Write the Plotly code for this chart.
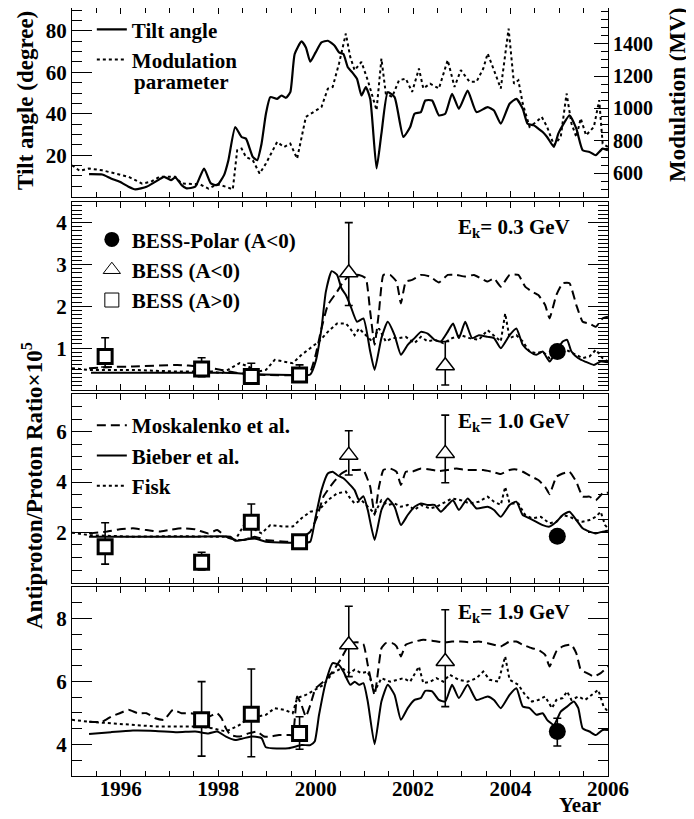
import plotly.graph_objects as go

# ---------------- data ----------------
# Top panel: HCS tilt angle (deg) and modulation parameter (MV)
tilt_year = [1995.35, 1995.62, 1995.80, 1995.98, 1996.16, 1996.30, 1996.53, 1996.71, 1996.89, 1997.03,
             1997.12, 1997.25, 1997.35, 1997.53, 1997.71, 1997.85, 1997.98, 1998.12, 1998.21, 1998.35,
             1998.48, 1998.57, 1998.71, 1998.80, 1998.89, 1998.98, 1999.07, 1999.21, 1999.30, 1999.39,
             1999.48, 1999.57, 1999.71, 1999.80, 1999.89, 2000.00, 2000.12, 2000.25, 2000.39, 2000.48,
             2000.57, 2000.66, 2000.75, 2000.85, 2000.94, 2001.03, 2001.12, 2001.25, 2001.35, 2001.48,
             2001.62, 2001.80, 2001.94, 2002.03, 2002.16, 2002.25, 2002.39, 2002.53, 2002.66, 2002.80,
             2002.94, 2003.12, 2003.30, 2003.53, 2003.66, 2003.80, 2003.98, 2004.12, 2004.25, 2004.35,
             2004.48, 2004.57, 2004.66, 2004.75, 2004.89, 2004.98, 2005.07, 2005.21, 2005.35, 2005.48,
             2005.62, 2005.75, 2005.89, 2006.00]
tilt_deg = [10.9, 10.7, 8.8, 7.2, 4.8, 3.5, 4.8, 7.2, 9.6, 8.0,
            9.3, 5.6, 4.0, 4.8, 13.6, 6.4, 5.6, 10.4, 17.6, 33.6,
            28.8, 28.0, 19.2, 17.6, 25.6, 40.0, 48.0, 47.2, 48.8, 47.7,
            50.4, 68.8, 74.9, 72.0, 65.1, 69.6, 74.4, 75.2, 72.8, 69.6,
            68.8, 62.4, 60.0, 56.8, 48.8, 52.8, 47.2, 13.6, 30.4, 50.4,
            48.0, 28.8, 33.6, 40.0, 40.8, 46.4, 46.4, 39.2, 40.0, 49.6,
            42.4, 51.2, 40.8, 43.2, 41.6, 35.2, 44.8, 47.2, 42.4, 35.2,
            34.4, 32.8, 31.2, 28.8, 24.0, 30.4, 34.4, 39.2, 32.8, 22.4,
            21.6, 20.0, 23.2, 22.4]

mod_year = [1995.00, 1995.16, 1995.35, 1995.62, 1995.89, 1996.16, 1996.44, 1996.62, 1996.80, 1996.98,
            1997.12, 1997.25, 1997.44, 1997.62, 1997.80, 1997.98, 1998.16, 1998.30, 1998.39, 1998.48,
            1998.57, 1998.71, 1998.85, 1998.98, 1999.21, 1999.35, 1999.48, 1999.62, 1999.80, 2000.00,
            2000.12, 2000.25, 2000.35, 2000.48, 2000.62, 2000.71, 2000.80, 2000.94, 2001.07, 2001.25,
            2001.35, 2001.44, 2001.57, 2001.71, 2001.85, 2001.98, 2002.12, 2002.21, 2002.35, 2002.53,
            2002.71, 2002.85, 2002.98, 2003.16, 2003.30, 2003.44, 2003.53, 2003.66, 2003.80, 2003.96,
            2004.07, 2004.16, 2004.25, 2004.39, 2004.53, 2004.64, 2004.75, 2004.89, 2005.03, 2005.15,
            2005.25, 2005.35, 2005.44, 2005.55, 2005.71, 2005.82, 2005.89, 2006.00]
mod_mv = [649, 614, 629, 618, 598, 578, 536, 547, 578, 578,
          578, 536, 536, 532, 505, 532, 516, 500, 742, 752,
          700, 680, 598, 660, 793, 762, 783, 690, 948, 989,
          1009, 1122, 1133, 1277, 1462, 1318, 1236, 1287, 1174, 989,
          1308, 1092, 1071, 1174, 1184, 1102, 1246, 1123, 1153, 1123,
          1298, 1133, 1236, 1164, 1164, 1246, 1339, 1236, 1123, 1493,
          1153, 1174, 1030, 886, 917, 948, 886, 773, 824, 1092,
          907, 824, 938, 834, 886, 1051, 783, 762]

# ---- Ek = 0.3 GeV model curves ----
bieber03_year = [1995.39, 1996.5, 1997.5, 1998.1, 1998.4, 1998.9, 1999.5, 1999.89, 2000.00, 2000.12,
                 2000.21, 2000.33, 2000.44, 2000.53, 2000.62, 2000.71, 2000.85, 2000.98, 2001.12, 2001.21,
                 2001.35, 2001.48, 2001.62, 2001.75, 2001.89, 2002.03, 2002.16, 2002.30, 2002.44, 2002.57,
                 2002.71, 2002.82, 2002.94, 2003.07, 2003.21, 2003.35, 2003.53, 2003.66, 2003.80, 2003.98,
                 2004.12, 2004.25, 2004.39, 2004.53, 2004.66, 2004.80, 2004.94, 2005.07, 2005.16, 2005.25,
                 2005.39, 2005.53, 2005.71, 2005.85, 2006.00]
bieber03_val = [0.41, 0.41, 0.41, 0.41, 0.40, 0.37, 0.36, 0.37, 0.68, 1.47,
                2.35, 2.84, 2.75, 2.43, 2.27, 2.03, 1.63, 1.71, 0.92, 0.48,
                1.24, 1.63, 1.31, 0.84, 1.08, 1.24, 1.39, 1.35, 1.20, 1.16,
                1.39, 1.59, 1.24, 1.63, 1.24, 1.31, 1.27, 1.24, 1.00, 1.31,
                1.47, 1.08, 0.92, 0.84, 0.92, 0.68, 0.92, 1.16, 1.20, 0.92,
                0.76, 0.68, 0.60, 0.68, 0.66]

mosk03_year = [1995.35, 1995.80, 1996.25, 1997.16, 1997.62, 1998.07, 1998.44, 1998.98, 1999.71, 1999.89,
               2000.00, 2000.12, 2000.25, 2000.44, 2000.57, 2000.71, 2000.89, 2001.03, 2001.12, 2001.21,
               2001.30, 2001.39, 2001.53, 2001.66, 2001.75, 2001.85, 2001.98, 2002.16, 2002.35, 2002.53,
               2002.71, 2002.89, 2003.07, 2003.25, 2003.39, 2003.53, 2003.66, 2003.80, 2003.98, 2004.16,
               2004.30, 2004.44, 2004.57, 2004.71, 2004.80, 2004.94, 2005.07, 2005.21, 2005.35, 2005.48,
               2005.62, 2005.75, 2005.89, 2006.00]
mosk03_val = [0.52, 0.55, 0.56, 0.60, 0.56, 0.48, 0.40, 0.36, 0.36, 0.44,
              0.84, 1.47, 2.03, 2.35, 2.59, 2.75, 2.75, 2.67, 1.87, 1.08,
              1.87, 2.75, 2.75, 2.59, 2.07, 2.59, 2.63, 2.75, 2.71, 2.57,
              2.75, 2.75, 2.71, 2.75, 2.67, 2.59, 2.67, 2.47, 2.75, 2.75,
              2.47, 2.35, 2.27, 2.03, 1.71, 2.27, 2.55, 2.55, 2.03, 1.63,
              1.59, 1.51, 1.71, 1.75]

fisk03_year = [1995.00, 1995.35, 1996.25, 1997.16, 1997.89, 1998.07, 1998.44, 1998.62, 1998.80, 1998.98,
               1999.16, 1999.35, 1999.53, 1999.71, 1999.89, 2000.07, 2000.25, 2000.44, 2000.62, 2000.71,
               2000.80, 2000.89, 2001.03, 2001.16, 2001.30, 2001.44, 2001.57, 2001.71, 2001.85, 2002.03,
               2002.16, 2002.30, 2002.44, 2002.62, 2002.80, 2002.98, 2003.16, 2003.35, 2003.53, 2003.66,
               2003.80, 2003.89, 2003.98, 2004.12, 2004.25, 2004.39, 2004.53, 2004.66, 2004.80, 2004.94,
               2005.07, 2005.21, 2005.35, 2005.48, 2005.62, 2005.75, 2005.89, 2006.00]
fisk03_val = [0.52, 0.48, 0.48, 0.44, 0.44, 0.40, 0.64, 0.56, 0.44, 0.48,
              0.72, 0.68, 0.64, 0.84, 1.00, 1.16, 1.39, 1.59, 1.59, 1.47,
              1.31, 1.47, 1.31, 1.16, 1.47, 1.16, 1.24, 1.24, 1.27, 1.12,
              1.27, 1.16, 1.20, 1.12, 1.24, 1.31, 1.24, 1.20, 1.43, 1.31,
              1.16, 1.83, 1.24, 1.31, 1.16, 0.92, 0.88, 0.92, 0.76, 0.84,
              1.00, 0.92, 0.84, 0.76, 0.80, 0.96, 0.76, 0.68]

# ---- Ek = 1.0 GeV model curves ----
bieber10_year = [1995.35, 1996.5, 1997.5, 1998.25, 1998.35, 1998.75, 1998.98, 1999.44, 1999.80, 1999.89,
                 2000.00, 2000.12, 2000.25, 2000.35, 2000.44, 2000.57, 2000.71, 2000.80, 2000.89, 2000.98,
                 2001.07, 2001.21, 2001.35, 2001.48, 2001.62, 2001.75, 2001.89, 2002.03, 2002.16, 2002.30,
                 2002.44, 2002.57, 2002.71, 2002.82, 2002.94, 2003.12, 2003.30, 2003.53, 2003.66, 2003.80,
                 2003.98, 2004.12, 2004.25, 2004.39, 2004.53, 2004.66, 2004.80, 2004.94, 2005.07, 2005.21,
                 2005.35, 2005.48, 2005.62, 2005.75, 2005.89, 2006.00]
bieber10_val = [1.83, 1.83, 1.83, 1.83, 1.67, 1.76, 1.63, 1.59, 1.59, 1.63,
                2.62, 3.68, 4.34, 4.41, 4.28, 4.15, 3.88, 3.68, 3.28, 3.44,
                2.89, 1.70, 2.89, 3.35, 3.02, 2.29, 2.69, 3.02, 3.15, 3.09,
                3.09, 2.82, 3.09, 3.28, 2.89, 3.35, 2.95, 3.02, 2.89, 2.62,
                3.09, 3.22, 2.69, 2.56, 2.42, 2.29, 2.23, 2.42, 2.69, 2.82,
                2.49, 2.16, 2.03, 1.96, 2.03, 2.07]

mosk10_year = [1995.35, 1995.71, 1995.98, 1996.25, 1996.53, 1996.80, 1996.98, 1997.25, 1997.53, 1997.80,
               1997.98, 1998.16, 1998.35, 1998.53, 1998.75, 1998.98, 1999.44, 1999.71, 1999.89, 2000.03,
               2000.16, 2000.35, 2000.53, 2000.66, 2000.80, 2000.98, 2001.12, 2001.21, 2001.30, 2001.39,
               2001.53, 2001.66, 2001.75, 2001.85, 2001.98, 2002.16, 2002.35, 2002.53, 2002.71, 2002.89,
               2003.07, 2003.25, 2003.44, 2003.62, 2003.80, 2003.98, 2004.12, 2004.25, 2004.44, 2004.57,
               2004.71, 2004.80, 2004.94, 2005.07, 2005.21, 2005.35, 2005.48, 2005.62, 2005.75, 2005.89,
               2006.00]
mosk10_val = [1.96, 2.03, 2.12, 2.16, 2.09, 2.03, 2.09, 2.16, 2.12, 1.96,
              2.09, 1.83, 1.70, 1.70, 1.83, 1.70, 1.63, 1.76, 2.03, 2.62,
              3.42, 3.95, 4.34, 4.48, 4.48, 4.48, 3.81, 2.69, 3.81, 4.48,
              4.54, 4.41, 3.88, 4.41, 4.41, 4.54, 4.50, 4.44, 4.48, 4.54,
              4.48, 4.48, 4.48, 4.41, 4.32, 4.48, 4.50, 4.41, 4.21, 4.08,
              3.81, 3.52, 4.21, 4.34, 4.41, 4.01, 3.42, 3.42, 3.28, 3.55,
              3.58]

fisk10_year = [1995.00, 1995.35, 1996.25, 1997.16, 1997.89, 1998.16, 1998.35, 1998.53, 1998.71, 1998.89,
               1999.07, 1999.35, 1999.53, 1999.71, 1999.89, 2000.07, 2000.25, 2000.44, 2000.62, 2000.71,
               2000.80, 2000.94, 2001.07, 2001.21, 2001.35, 2001.48, 2001.62, 2001.75, 2001.89, 2002.03,
               2002.16, 2002.35, 2002.48, 2002.62, 2002.80, 2002.98, 2003.16, 2003.35, 2003.53, 2003.66,
               2003.80, 2003.89, 2003.98, 2004.16, 2004.30, 2004.44, 2004.62, 2004.80, 2004.94, 2005.07,
               2005.21, 2005.35, 2005.48, 2005.62, 2005.75, 2005.85, 2005.94, 2006.00]
fisk10_val = [1.99, 1.89, 1.83, 1.85, 1.83, 1.83, 1.70, 2.29, 2.16, 1.96,
              2.29, 2.23, 2.23, 2.56, 2.82, 2.89, 3.28, 3.55, 3.62, 3.35,
              3.15, 3.28, 3.02, 2.75, 3.28, 3.09, 3.15, 3.02, 3.09, 2.89,
              3.09, 2.95, 3.02, 3.15, 3.35, 3.28, 3.15, 3.22, 3.42, 3.22,
              3.09, 3.81, 3.15, 3.15, 2.69, 2.56, 2.62, 2.36, 2.42, 2.69,
              2.62, 2.49, 2.42, 2.49, 2.62, 2.82, 2.29, 2.16]

# ---- Ek = 1.9 GeV model curves ----
bieber19_year = [1995.35, 1995.80, 1996.25, 1996.71, 1997.16, 1997.53, 1997.80, 1997.98, 1998.16, 1998.35,
                 1998.53, 1998.71, 1998.89, 1998.98, 1999.44, 1999.71, 1999.89, 1999.98, 2000.07, 2000.21,
                 2000.35, 2000.48, 2000.57, 2000.71, 2000.80, 2000.89, 2000.98, 2001.07, 2001.21, 2001.35,
                 2001.48, 2001.62, 2001.75, 2001.89, 2002.03, 2002.16, 2002.25, 2002.39, 2002.53, 2002.66,
                 2002.80, 2002.94, 2003.12, 2003.30, 2003.53, 2003.66, 2003.80, 2003.98, 2004.12, 2004.25,
                 2004.39, 2004.53, 2004.66, 2004.75, 2004.89, 2005.03, 2005.16, 2005.30, 2005.39, 2005.48,
                 2005.62, 2005.75, 2005.89, 2006.00]
bieber19_val = [4.33, 4.39, 4.44, 4.43, 4.39, 4.41, 4.35, 4.41, 4.25, 4.14,
                4.20, 4.25, 4.20, 3.91, 3.88, 3.98, 3.98, 4.09, 4.94, 5.99,
                6.58, 6.52, 6.31, 5.89, 5.99, 5.89, 5.94, 5.36, 4.01, 5.36,
                5.89, 5.57, 4.78, 5.15, 5.41, 5.47, 5.70, 5.68, 5.41, 5.36,
                5.89, 5.47, 5.89, 5.41, 5.52, 5.41, 5.15, 5.57, 5.78, 5.20,
                5.15, 4.94, 4.99, 4.78, 4.62, 5.04, 5.20, 5.36, 5.15, 4.51,
                4.41, 4.30, 4.46, 4.46]

mosk19_year = [1995.35, 1995.62, 1995.80, 1995.98, 1996.16, 1996.35, 1996.53, 1996.71, 1996.89, 1997.07,
               1997.25, 1997.44, 1997.62, 1997.80, 1997.98, 1998.07, 1998.16, 1998.25, 1998.44, 1998.62,
               1998.80, 1998.94, 1999.07, 1999.25, 1999.44, 1999.53, 1999.62, 1999.71, 1999.80, 1999.89,
               2000.00, 2000.16, 2000.35, 2000.53, 2000.71, 2000.85, 2000.98, 2001.07, 2001.21, 2001.35,
               2001.44, 2001.57, 2001.66, 2001.75, 2001.85, 2002.03, 2002.21, 2002.39, 2002.62, 2002.80,
               2002.98, 2003.16, 2003.35, 2003.53, 2003.80, 2003.98, 2004.12, 2004.25, 2004.44, 2004.57,
               2004.71, 2004.80, 2004.94, 2005.07, 2005.25, 2005.35, 2005.44, 2005.57, 2005.71, 2005.85,
               2006.00]
mosk19_val = [4.72, 4.72, 4.88, 4.99, 5.10, 4.99, 4.99, 4.83, 4.78, 5.10,
              4.99, 4.99, 4.94, 4.88, 4.99, 4.83, 4.51, 4.30, 4.25, 4.35,
              4.41, 4.25, 4.25, 4.30, 4.30, 4.30, 5.52, 5.25, 4.88, 5.25,
              5.78, 5.99, 6.31, 6.74, 7.21, 7.24, 7.18, 6.52, 5.57, 7.05,
              7.21, 7.21, 7.11, 6.79, 7.16, 7.26, 7.32, 7.29, 7.23, 7.26,
              7.26, 7.24, 7.26, 7.21, 7.11, 7.26, 7.26, 7.16, 7.05, 7.00,
              6.84, 6.47, 6.95, 7.11, 7.16, 6.89, 6.37, 6.26, 6.15, 6.26,
              6.47]

fisk19_year = [1995.00, 1995.35, 1995.80, 1996.25, 1996.71, 1997.16, 1997.62, 1997.89, 1998.16, 1998.44,
               1998.62, 1998.80, 1998.98, 1999.16, 1999.35, 1999.53, 1999.62, 1999.80, 1999.98, 2000.16,
               2000.35, 2000.53, 2000.71, 2000.80, 2000.94, 2001.07, 2001.21, 2001.35, 2001.53, 2001.66,
               2001.80, 2001.94, 2002.12, 2002.21, 2002.35, 2002.48, 2002.62, 2002.75, 2002.94, 2003.12,
               2003.30, 2003.44, 2003.57, 2003.75, 2003.89, 2003.98, 2004.16, 2004.30, 2004.44, 2004.57,
               2004.71, 2004.85, 2004.94, 2005.07, 2005.16, 2005.25, 2005.39, 2005.53, 2005.66, 2005.80,
               2005.91, 2006.00]
fisk19_val = [4.78, 4.72, 4.67, 4.62, 4.57, 4.57, 4.57, 4.51, 4.41, 4.62,
              4.83, 4.88, 4.94, 5.15, 5.10, 4.99, 5.47, 5.57, 5.73, 5.89,
              6.26, 6.42, 6.26, 6.37, 6.26, 6.31, 5.68, 6.10, 5.99, 6.05,
              6.10, 5.99, 6.47, 5.94, 5.99, 6.10, 5.99, 6.21, 6.05, 5.99,
              6.10, 6.31, 6.05, 5.99, 6.79, 6.05, 5.89, 5.57, 5.36, 5.41,
              5.52, 5.15, 5.41, 5.47, 5.68, 5.41, 5.52, 5.41, 5.57, 5.73,
              5.20, 5.04]

# ---- BESS measurements ----
bess_pos_year = [1995.68, 1997.66, 1998.68, 1999.67]        # A>0
bess_pos_03 = [0.80, 0.50, 0.32, 0.36]
bess_pos_03_up = [0.45, 0.27, 0.32, 0.24]
bess_pos_03_dn = [0.25, 0.18, 0.12, 0.12]
bess_pos_10 = [1.43, 0.81, 2.40, 1.63]
bess_pos_10_up = [0.95, 0.40, 0.73, 0.25]
bess_pos_10_dn = [0.69, 0.30, 0.64, 0.25]
bess_pos19_year = [1997.66, 1998.68, 1999.67]
bess_pos_19 = [4.78, 4.96, 4.35]
bess_pos_19_up = [1.21, 1.43, 0.53]
bess_pos_19_dn = [1.15, 1.35, 0.50]

bess_neg_year = [2000.68, 2002.66]                            # A<0
bess_neg_03 = [2.80, 0.58]
bess_neg_03_up = [1.20, 0.58]
bess_neg_03_dn = [0.78, 0.46]
bess_neg_10 = [5.07, 5.14]
bess_neg_10_up = [0.97, 1.52]
bess_neg_10_dn = [0.79, 1.17]
bess_neg_19 = [7.16, 6.63]
bess_neg_19_up = [1.22, 1.64]
bess_neg_19_dn = [1.01, 1.43]

polar_year = [2004.96]                                        # BESS-Polar
polar_03 = [0.92]
polar_03_err = [0.08]
polar_10 = [1.85]
polar_10_err = [0.15]
polar_19 = [4.41]
polar_19_up = [0.42]
polar_19_dn = [0.46]

energies = ["0.3", "1.0", "1.9"]

# tick label values per panel
tilt_ticks = [20, 40, 60, 80]
mod_ticks = [600, 800, 1000, 1200, 1400]
ratio03_ticks = [1, 2, 3, 4]
ratio10_ticks = [2, 4, 6]
ratio19_ticks = [4, 6, 8]

# ---------------- figure ----------------
FONT = "Liberation Serif"
BLACK = "black"
fig = go.Figure()

LW = 2
DASH = "9px,5px"
DOT = "3px,3px"

# Top panel
fig.add_trace(go.Scatter(x=tilt_year, y=tilt_deg, mode="lines", name="Tilt angle",
                         line=dict(color=BLACK, width=2.2, shape="spline", smoothing=0.5),
                         xaxis="x", yaxis="y", legend="legend"))
fig.add_trace(go.Scatter(x=mod_year, y=mod_mv, mode="lines", name="Modulation",
                         line=dict(color=BLACK, width=2, dash=DOT),
                         xaxis="x", yaxis="y5", legend="legend"))

panels = [
    (mosk03_year, mosk03_val, bieber03_year, bieber03_val, fisk03_year, fisk03_val),
    (mosk10_year, mosk10_val, bieber10_year, bieber10_val, fisk10_year, fisk10_val),
    (mosk19_year, mosk19_val, bieber19_year, bieber19_val, fisk19_year, fisk19_val),
]
for i, (my, mv, by, bv, fy, fv) in enumerate(panels):
    xa = "x%d" % (i + 2)
    ya = "y%d" % (i + 2)
    show = (i == 1)
    fig.add_trace(go.Scatter(x=my, y=mv, mode="lines", name="Moskalenko et al.",
                             line=dict(color=BLACK, width=LW, dash=DASH, shape="spline", smoothing=0.4),
                             xaxis=xa, yaxis=ya, showlegend=show, legend="legend3"))
    fig.add_trace(go.Scatter(x=by, y=bv, mode="lines", name="Bieber et al.",
                             line=dict(color=BLACK, width=LW, shape="spline", smoothing=0.5),
                             xaxis=xa, yaxis=ya, showlegend=show, legend="legend3"))
    fig.add_trace(go.Scatter(x=fy, y=fv, mode="lines", name="Fisk",
                             line=dict(color=BLACK, width=LW, dash=DOT),
                             xaxis=xa, yaxis=ya, showlegend=show, legend="legend3"))

# data points
pos_sets = [(bess_pos_year, bess_pos_03, bess_pos_03_up, bess_pos_03_dn),
            (bess_pos_year, bess_pos_10, bess_pos_10_up, bess_pos_10_dn),
            (bess_pos19_year, bess_pos_19, bess_pos_19_up, bess_pos_19_dn)]
neg_sets = [(bess_neg_03, bess_neg_03_up, bess_neg_03_dn),
            (bess_neg_10, bess_neg_10_up, bess_neg_10_dn),
            (bess_neg_19, bess_neg_19_up, bess_neg_19_dn)]
polar_sets = [(polar_03, polar_03_err, polar_03_err),
              (polar_10, polar_10_err, polar_10_err),
              (polar_19, polar_19_up, polar_19_dn)]
for i in range(3):
    xa = "x%d" % (i + 2)
    ya = "y%d" % (i + 2)
    py_, pv, pu, pd = pos_sets[i]
    fig.add_trace(go.Scatter(x=py_, y=pv, mode="markers", showlegend=False,
                             marker=dict(symbol="square", size=14, color="white",
                                         line=dict(color=BLACK, width=3)),
                             error_y=dict(type="data", symmetric=False, array=pu, arrayminus=pd,
                                          color=BLACK, thickness=1.6, width=4),
                             xaxis=xa, yaxis=ya))
    nv, nu, nd = neg_sets[i]
    fig.add_trace(go.Scatter(x=bess_neg_year, y=nv, mode="markers", showlegend=False,
                             marker=dict(symbol="triangle-up", size=16, color="white",
                                         line=dict(color=BLACK, width=1.5)),
                             error_y=dict(type="data", symmetric=False, array=nu, arrayminus=nd,
                                          color=BLACK, thickness=1.6, width=4),
                             xaxis=xa, yaxis=ya))
    cv, cu, cd = polar_sets[i]
    fig.add_trace(go.Scatter(x=polar_year, y=cv, mode="markers", showlegend=False,
                             marker=dict(symbol="circle", size=17, color=BLACK),
                             error_y=dict(type="data", symmetric=False, array=cu, arrayminus=cd,
                                          color=BLACK, thickness=1.6, width=4),
                             xaxis=xa, yaxis=ya))

# legend entries for the measurements (thin outline symbols as in the key)
fig.add_trace(go.Scatter(x=[None], y=[None], mode="markers", name="BESS-Polar (A<0)",
                         marker=dict(symbol="circle", size=15, color=BLACK),
                         xaxis="x2", yaxis="y2", legend="legend2"))
fig.add_trace(go.Scatter(x=[None], y=[None], mode="markers", name="BESS (A<0)",
                         marker=dict(symbol="triangle-up-open", size=15, color=BLACK,
                                     line=dict(width=1)),
                         xaxis="x2", yaxis="y2", legend="legend2"))
fig.add_trace(go.Scatter(x=[None], y=[None], mode="markers", name="BESS (A>0)",
                         marker=dict(symbol="square-open", size=14, color=BLACK,
                                     line=dict(width=1)),
                         xaxis="x2", yaxis="y2", legend="legend2"))

tickfont = dict(family=FONT, size=21, color=BLACK, weight="bold")
legfont = dict(family=FONT, size=21, color=BLACK, weight="bold")


def xax(anchor, labels):
    d = dict(domain=[0, 1], anchor=anchor, range=[1995, 2006], showline=True, linecolor=BLACK,
             linewidth=1, mirror="ticks", ticks="inside", ticklen=6, tickwidth=1, tickcolor=BLACK,
             dtick=2, tick0=1996, showticklabels=labels, tickfont=tickfont, showgrid=False,
             zeroline=False, minor=dict(dtick=0.5, ticklen=5, ticks="inside", tickcolor=BLACK))
    if anchor != "y":
        d["matches"] = "x"
    if labels:
        d["ticklabelstandoff"] = -6
    return d


def yax(domain, rng, tickvals, mdtick):
    return dict(domain=domain, range=rng, showline=True, linecolor=BLACK, linewidth=1, mirror="ticks",
                ticks="inside", ticklen=20, tickwidth=1, tickcolor=BLACK, tickvals=tickvals,
                tickfont=tickfont, showgrid=False, zeroline=False,
                minor=dict(dtick=mdtick, ticklen=10, ticks="inside", tickcolor=BLACK))


ytop = yax([0.7543, 1.0], [0, 91], tilt_ticks, 5)
ytop["mirror"] = True

# The page body has an 8px margin, so the figure is 8px smaller than the window.
fig.update_layout(
    width=686, height=811,
    margin=dict(l=64, r=86, t=0, b=43),
    paper_bgcolor="white", plot_bgcolor="white",
    font=dict(family=FONT, color=BLACK),
    xaxis=xax("y", False),
    xaxis2=xax("y2", False),
    xaxis3=xax("y3", False),
    xaxis4=xax("y4", True),
    yaxis=ytop,
    yaxis2=yax([0.5026, 0.7478], [0, 4.5], ratio03_ticks, 0.1),
    yaxis3=yax([0.2517, 0.4974], [0, 7.5], ratio10_ticks, 0.5),
    yaxis4=yax([0.0, 0.2465], [3, 9], ratio19_ticks, 0.5),
    yaxis5=dict(overlaying="y", side="right", anchor="x", range=[455, 1620], showline=True,
                linecolor=BLACK, linewidth=1, ticks="inside", ticklen=14, tickwidth=1,
                tickcolor=BLACK, tickvals=mod_ticks,
                tickfont=dict(family=FONT, size=20, color=BLACK, weight="bold"),
                showgrid=False, zeroline=False,
                minor=dict(dtick=50, ticklen=7, ticks="inside", tickcolor=BLACK)),
    legend=dict(x=0.037, y=0.9985, xanchor="left", yanchor="top", bgcolor="rgba(0,0,0,0)",
                font=legfont, tracegroupgap=0, itemwidth=30),
    legend2=dict(x=0.037, y=0.7249, xanchor="left", yanchor="top", bgcolor="rgba(0,0,0,0)",
                 font=legfont, tracegroupgap=0, itemwidth=30),
    legend3=dict(x=0.037, y=0.4831, xanchor="left", yanchor="top", bgcolor="rgba(0,0,0,0)",
                 font=legfont, tracegroupgap=0, itemwidth=30),
    showlegend=True,
)

ann_font = dict(family=FONT, size=21, color=BLACK, weight="bold")
title_font = dict(family=FONT, size=23, color=BLACK, weight="bold")
ek_y = [0.7135, 0.4613, 0.2122]
for e, yy in zip(energies, ek_y):
    fig.add_annotation(x=0.9328, y=yy, xref="paper", yref="paper", xanchor="right", yanchor="middle",
                       text="E<sub>k</sub>= %s GeV" % e, showarrow=False, font=ann_font)
# second line of the modulation legend entry
fig.add_annotation(x=0.1119, y=0.9040, xref="paper", yref="paper", xanchor="left", yanchor="middle",
                   text="parameter", showarrow=False, font=legfont)
fig.add_annotation(x=-0.0877, y=0.8802, xref="paper", yref="paper", textangle=-90, showarrow=False,
                   text="Tilt angle (degree)", font=title_font, xanchor="center", yanchor="middle")
fig.add_annotation(x=1.1287, y=0.8867, xref="paper", yref="paper", textangle=-90, showarrow=False,
                   text="Modulation (MV)", font=title_font, xanchor="center", yanchor="middle")
fig.add_annotation(x=-0.0746, y=0.3776, xref="paper", yref="paper", textangle=-90, showarrow=False,
                   text="Antiproton/Proton Ratio×10<sup>5</sup>", font=title_font,
                   xanchor="center", yanchor="middle")
fig.add_annotation(x=0.9907, y=-0.0555, xref="paper", yref="paper", showarrow=False,
                   text="Year", font=dict(family=FONT, size=21, color=BLACK, weight="bold"),
                   xanchor="right", yanchor="bottom")

fig.write_html("out.html")
